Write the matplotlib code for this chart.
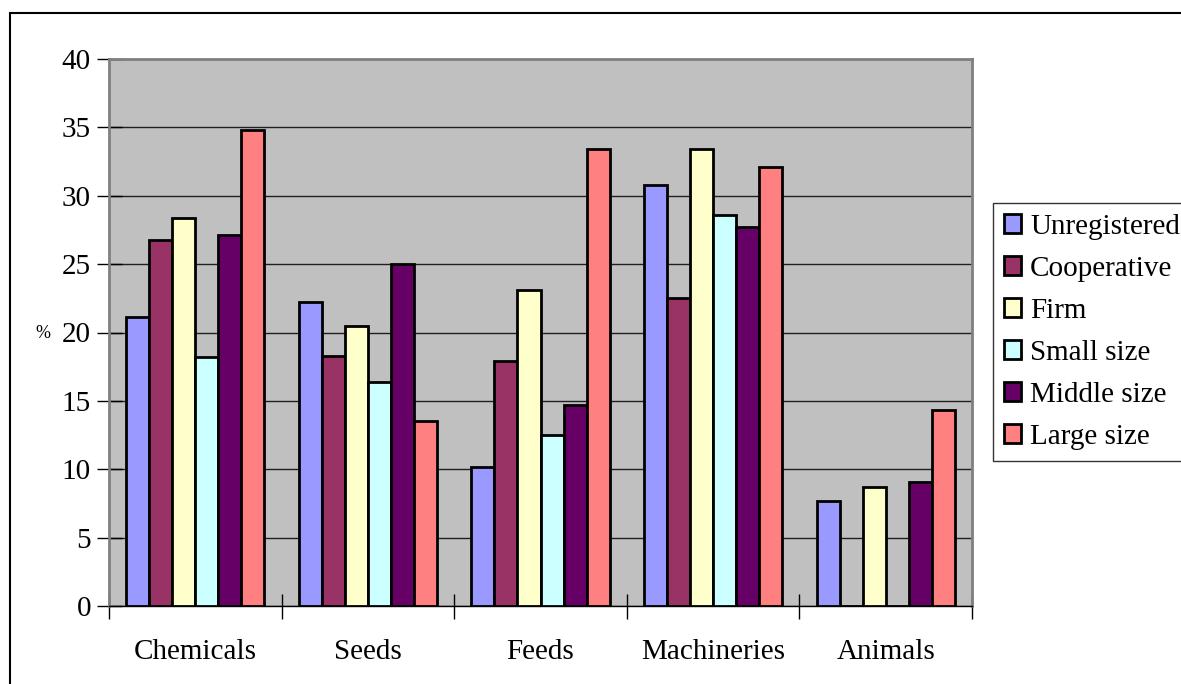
import numpy as np
import matplotlib.pyplot as plt
from matplotlib.patches import Rectangle

plt.rcParams['font.family'] = ['Liberation Serif', 'DejaVu Serif']

categorias = ['Chemicals', 'Seeds', 'Feeds', 'Machineries', 'Animals']
series = ['Unregistered', 'Cooperative', 'Firm', 'Small size', 'Middle size', 'Large size']
cores = ['#9999FF', '#993366', '#FFFFCC', '#CCFFFF', '#660066', '#FF8080']

unregistered = [21.1, 22.2, 10.2, 30.8, 7.7]
cooperative = [26.8, 18.3, 17.9, 22.5, 0]
firm = [28.4, 20.5, 23.1, 33.4, 8.7]
small_size = [18.2, 16.4, 12.5, 28.6, 0]
middle_size = [27.1, 25.0, 14.7, 27.7, 9.1]
large_size = [34.8, 13.5, 33.4, 32.1, 14.3]
valores = [unregistered, cooperative, firm, small_size, middle_size, large_size]

fig = plt.figure(figsize=(11.81, 6.84), dpi=100)
# moldura externa
fig.patches.append(Rectangle((10 / 1181, -0.1), 1.2, 1 - 13 / 684 + 0.1,
                             transform=fig.transFigure, fill=False,
                             edgecolor='black', linewidth=1.5))

ax = fig.add_axes([109 / 1181, 1 - 606 / 684, (972 - 109) / 1181, (606 - 59) / 684])
ax.set_facecolor('#C0C0C0')

x = np.arange(len(categorias))
larg = 0.8 / len(series)
for i, (nome, v) in enumerate(zip(series, valores)):
    pos = x - 0.4 + larg * (i + 0.5)
    ax.bar(pos, v, larg, color=cores[i], edgecolor='black', linewidth=2,
           label=nome, zorder=3)

ax.set_xlim(-0.5, len(categorias) - 0.5)
ax.set_ylim(0, 40)
ax.set_yticks(range(0, 41, 5))
ax.yaxis.grid(True, color='#202020', linewidth=1, zorder=1)
ax.set_axisbelow(True)

ax.set_xticks(x)
ax.set_xticklabels(categorias, fontsize=21)
ax.set_xticks(np.arange(-0.5, len(categorias)), minor=True)
ax.tick_params(axis='x', which='major', length=0, pad=24)
ax.tick_params(axis='x', which='minor', length=18, direction='inout', width=1)
ax.tick_params(axis='y', labelsize=21, length=18, direction='inout', width=1, pad=4)

for lado in ['top', 'right', 'left']:
    ax.spines[lado].set_color('#808080')
    ax.spines[lado].set_linewidth(2)
ax.spines['bottom'].set_color('black')
ax.spines['bottom'].set_linewidth(1)

fig.text(43 / 1181, 1 - 333 / 684, '%', fontsize=13, ha='center', va='center')

# legenda cortada na borda direita, como no original
leg = fig.legend(loc='upper left', bbox_to_anchor=(993 / 1181, 1 - 203 / 684, 0.2, 0),
                 mode='expand', fontsize=21, frameon=True, fancybox=False,
                 edgecolor='black', handlelength=0.6, handleheight=0.6,
                 handletextpad=0.3, labelspacing=0.55, borderpad=0.37,
                 borderaxespad=0)
leg.get_frame().set_linewidth(1)

fig.savefig('out.png', dpi=100)
